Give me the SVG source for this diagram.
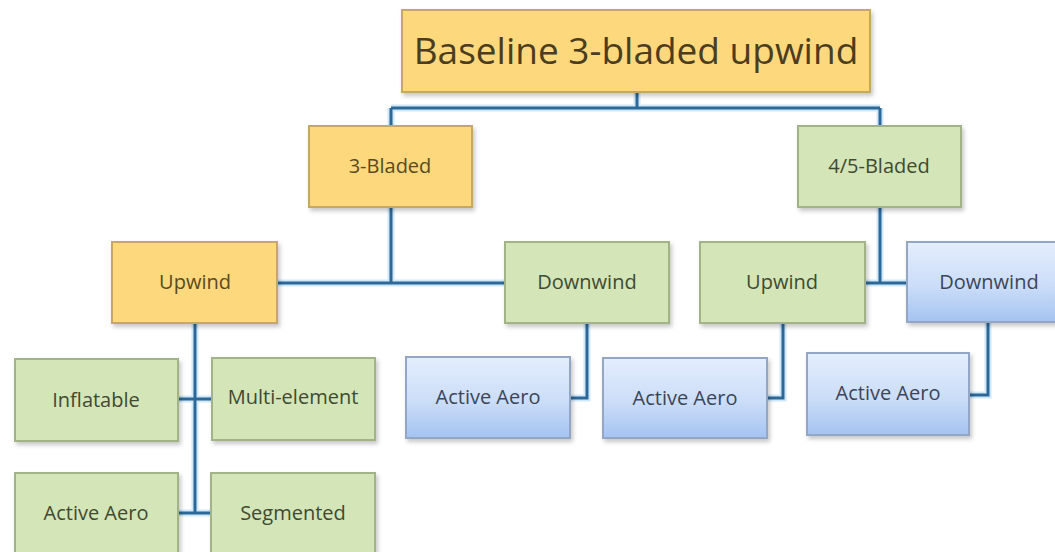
<svg xmlns="http://www.w3.org/2000/svg" width="1055" height="552" viewBox="0 0 1055 552">
<defs>
<linearGradient id="gBlue" x1="0" y1="0" x2="0" y2="1">
<stop offset="0" stop-color="#E4EEFD"/>
<stop offset="0.55" stop-color="#CBDDF8"/>
<stop offset="1" stop-color="#A4C3F1"/>
</linearGradient>
<filter id="sh" x="-10%" y="-10%" width="125%" height="130%">
<feDropShadow dx="2" dy="3" stdDeviation="2" flood-color="#000" flood-opacity="0.22"/>
</filter>
</defs>
<style>
.box{stroke-width:2;filter:url(#sh)}
.or{fill:#FDD87C;stroke:#C6A766}
.gr{fill:#D4E5B7;stroke:#A2B487}
.bl{fill:url(#gBlue);stroke:#93A6C4}
text{font-family:"Open Sans","Liberation Sans",sans-serif;font-size:20px;text-anchor:middle}
.to{fill:#5A4A22}
.tg{fill:#3F4A32}
.tb{fill:#3C4558}
.halo{fill:none;stroke:#A9D6F2;stroke-width:7;stroke-opacity:0.55}
.line{fill:none;stroke:#2C6898;stroke-width:3}
</style>
<rect width="1055" height="552" fill="#FFFFFF"/>
<g id="connectors">
<g class="halo">
<path d="M637,92 V108 M391,108 H880 M391,108 V126 M880,108 V126"/>
<path d="M391,207 V283 M277,283 H505"/>
<path d="M880,207 V283 M865,283 H907"/>
<path d="M195,323 V513 M178,399 H212 M178,513 H210"/>
<path d="M587,323 V398 H570"/>
<path d="M783,323 V398 H767"/>
<path d="M988,322 V395 H969"/>
</g>
<g class="line">
<path d="M637,92 V108 M391,108 H880 M391,108 V126 M880,108 V126"/>
<path d="M391,207 V283 M277,283 H505"/>
<path d="M880,207 V283 M865,283 H907"/>
<path d="M195,323 V513 M178,399 H212 M178,513 H210"/>
<path d="M587,323 V398 H570"/>
<path d="M783,323 V398 H767"/>
<path d="M988,322 V395 H969"/>
</g>
</g>
<g id="root"><rect class="box or" x="402" y="10" width="468" height="82"/><text x="636" y="64" style="font-size:37px;fill:#4B3D1E">Baseline 3-bladed upwind</text></g>
<g id="n3bladed"><rect class="box or" x="309" y="126" width="163" height="81"/><text class="to" x="390" y="173">3-Bladed</text></g>
<g id="n45bladed"><rect class="box gr" x="798" y="126" width="163" height="81"/><text class="tg" x="879" y="173">4/5-Bladed</text></g>
<g id="up3"><rect class="box or" x="112" y="242" width="165" height="81"/><text class="to" x="195" y="289">Upwind</text></g>
<g id="down3"><rect class="box gr" x="505" y="242" width="164" height="81"/><text class="tg" x="587" y="289">Downwind</text></g>
<g id="up45"><rect class="box gr" x="700" y="242" width="165" height="81"/><text class="tg" x="782" y="289">Upwind</text></g>
<g id="down45"><rect class="box bl" x="907" y="242" width="164" height="80"/><text class="tb" x="989" y="289">Downwind</text></g>
<g id="inflatable"><rect class="box gr" x="15" y="359" width="163" height="82"/><text class="tg" x="96" y="407">Inflatable</text></g>
<g id="multielement"><rect class="box gr" x="212" y="358" width="163" height="82"/><text class="tg" x="293" y="404">Multi-element</text></g>
<g id="activeaero1"><rect class="box gr" x="15" y="473" width="163" height="85"/><text class="tg" x="96" y="520">Active Aero</text></g>
<g id="segmented"><rect class="box gr" x="211" y="473" width="164" height="85"/><text class="tg" x="293" y="520">Segmented</text></g>
<g id="activeaero2"><rect class="box bl" x="406" y="357" width="164" height="81"/><text class="tb" x="488" y="404">Active Aero</text></g>
<g id="activeaero3"><rect class="box bl" x="603" y="358" width="164" height="80"/><text class="tb" x="685" y="405">Active Aero</text></g>
<g id="activeaero4"><rect class="box bl" x="807" y="353" width="162" height="82"/><text class="tb" x="888" y="400">Active Aero</text></g>
</svg>
